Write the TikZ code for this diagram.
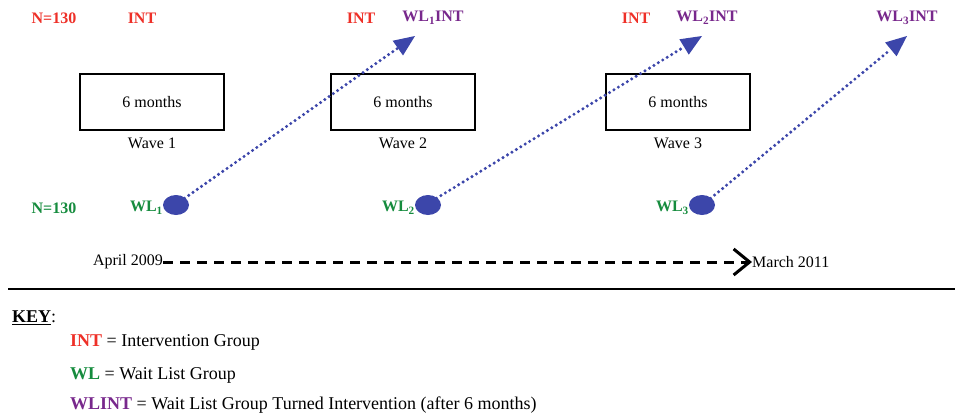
\documentclass[tikz,border=0pt]{standalone}
\usepackage{fontspec}
\setmainfont{Liberation Serif}
\usetikzlibrary{arrows.meta,shapes.geometric}
\definecolor{cred}{RGB}{238,48,40}
\definecolor{cgreen}{RGB}{22,140,62}
\definecolor{cpurple}{RGB}{120,40,140}
\definecolor{cblue}{RGB}{60,70,170}
\tikzset{
  lab/.style={font=\fontsize{16}{19}\selectfont\bfseries, inner sep=0pt},
  intlab/.style={lab, text=cred},
  wllab/.style={lab, text=cgreen},
  wlint/.style={lab, text=cpurple},
  monthbox/.style={draw, line width=1.5pt, minimum width=144pt, minimum height=56pt, font=\fontsize{16}{19}\selectfont},
  wavelab/.style={font=\fontsize{16}{19}\selectfont, inner sep=0pt},
  dot/.style={ellipse, fill=cblue, minimum width=26pt, minimum height=20pt, inner sep=0pt},
  dotarrow/.style={draw=cblue, line width=3.4pt, dash pattern=on 0pt off 5.2pt, line cap=round, -{Triangle[length=21pt,width=18pt,fill=cblue,line width=0pt,round=false]}, shorten <=-1pt},
  timeline/.style={line width=3pt, dash pattern=on 10pt off 7pt, -{Straight Barb[length=16pt,width=26pt,line width=3pt]}},
  keytxt/.style={font=\fontsize{18}{21}\selectfont, anchor=west, inner sep=0pt},
}
\begin{document}
\begin{tikzpicture}[x=1pt,y=-1pt]
\useasboundingbox (0,0) rectangle (955,413);
% top row
\node[intlab] (n1) at (54,18) {N=130};
\node[intlab] (i1) at (142,18) {INT};
\node[intlab] (i2) at (361,18) {INT};
\node[wlint] (w1) at (433,18) {WL\textsubscript{1}INT};
\node[intlab] (i3) at (636,18) {INT};
\node[wlint] (w2) at (707,18) {WL\textsubscript{2}INT};
\node[wlint] (w3) at (907,18) {WL\textsubscript{3}INT};
% boxes
\node[monthbox] (b1) at (152,102) {6 months};
\node[monthbox] (b2) at (403,102) {6 months};
\node[monthbox] (b3) at (678,102) {6 months};
\node[wavelab] (v1) at (152,143) {Wave 1};
\node[wavelab] (v2) at (403,143) {Wave 2};
\node[wavelab] (v3) at (678,143) {Wave 3};
% wait list row
\node[wllab] (n2) at (54,208) {N=130};
\node[dot] (e1) at (176,205) {};
\node[dot] (e2) at (428,205) {};
\node[dot] (e3) at (702,205) {};
\node[wllab, anchor=east] (l1) at (163,208) {WL\textsubscript{1}};
\node[wllab, anchor=east] (l2) at (415,208) {WL\textsubscript{2}};
\node[wllab, anchor=east] (l3) at (689,208) {WL\textsubscript{3}};
\coordinate (t1) at (415,36);
\coordinate (t2) at (702,36);
\coordinate (t3) at (907,36);
\draw[dotarrow] (e1.north east) -- (t1);
\draw[dotarrow] (e2.north east) -- (t2);
\draw[dotarrow] (e3.north east) -- (t3);
% timeline
\node[wavelab, anchor=east] (a1) at (163,262) {April 2009};
\node[wavelab, anchor=west] (a2) at (752,262) {March 2011};
\draw[timeline] (a1.east) -- (a2.west);
% rule
\coordinate (r1) at (8,289);
\coordinate (r2) at (955,289);
\draw[line width=1.6pt] (r1) -- (r2);
% key
\node[keytxt] (k0) at (12,318) {\textbf{\underline{KEY}}:};
\node[keytxt] (k1) at (70,342) {\textbf{\textcolor{cred}{INT}} = Intervention Group};
\node[keytxt] (k2) at (70,375) {\textbf{\textcolor{cgreen}{WL}} = Wait List Group};
\node[keytxt] (k3) at (70,405) {\textbf{\textcolor{cpurple}{WLINT}} = Wait List Group Turned Intervention (after 6 months)};
\end{tikzpicture}
\end{document}
